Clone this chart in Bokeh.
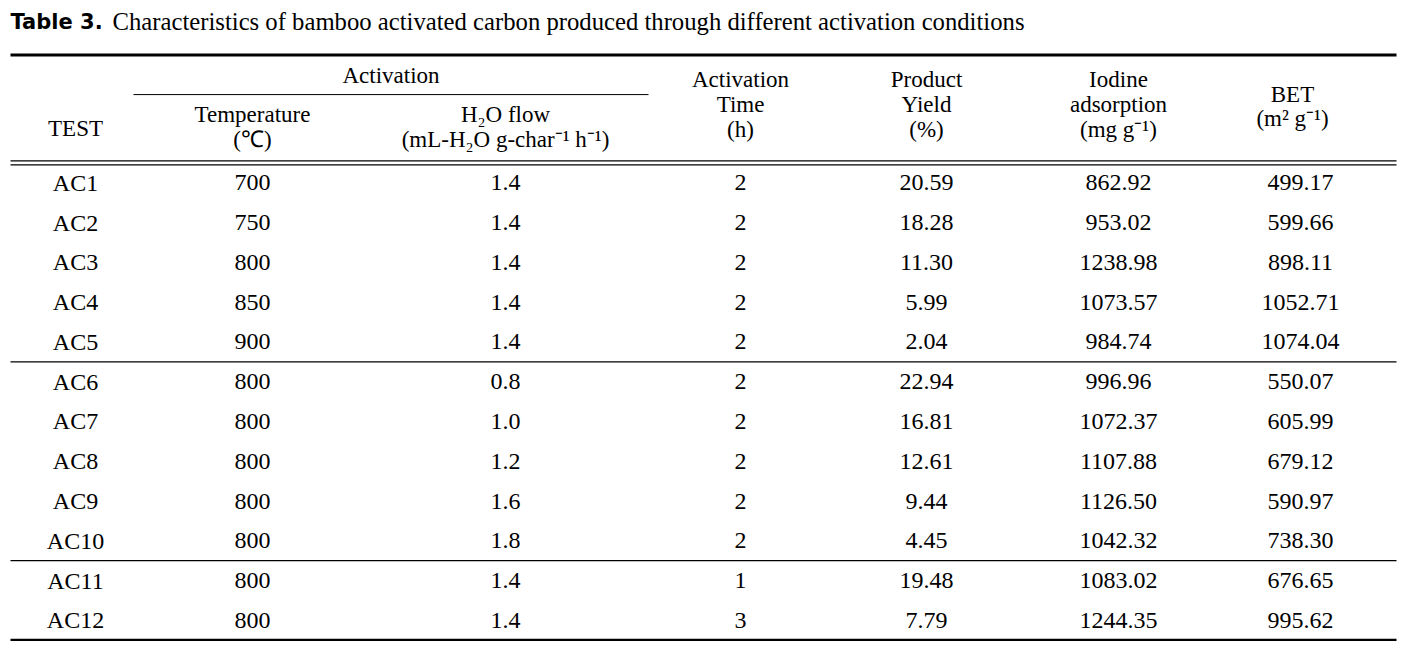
from bokeh.plotting import figure
from bokeh.models import ColumnDataSource, Range1d
from bokeh.core.properties import value
from bokeh.embed import file_html
from bokeh.resources import INLINE

# ---------------- data ----------------
tests = ["AC1", "AC2", "AC3", "AC4", "AC5", "AC6", "AC7", "AC8", "AC9", "AC10", "AC11", "AC12"]
temperature = [700, 750, 800, 850, 900, 800, 800, 800, 800, 800, 800, 800]
h2o_flow = [1.4, 1.4, 1.4, 1.4, 1.4, 0.8, 1.0, 1.2, 1.6, 1.8, 1.4, 1.4]
act_time = [2, 2, 2, 2, 2, 2, 2, 2, 2, 2, 1, 3]
product_yield = [20.59, 18.28, 11.30, 5.99, 2.04, 22.94, 16.81, 12.61, 9.44, 4.45, 19.48, 7.79]
iodine = [862.92, 953.02, 1238.98, 1073.57, 984.74, 996.96, 1072.37, 1107.88, 1126.50, 1042.32, 1083.02, 1244.35]
bet = [499.17, 599.66, 898.11, 1052.71, 1074.04, 550.07, 605.99, 679.12, 590.97, 738.30, 676.65, 995.62]
group_sizes = [5, 5, 2]

title_bold = "Table 3."
title_text = "Characteristics of bamboo activated carbon produced through different activation conditions"
group_header = "Activation"
col_headers = [
    ["TEST"],
    ["Temperature", "(\u2103)"],
    ["H\u2082O flow", "(mL-H\u2082O g-char\u207b\u00b9 h\u207b\u00b9)"],
    ["Activation", "Time", "(h)"],
    ["Product", "Yield", "(%)"],
    ["Iodine", "adsorption", "(mg g\u207b\u00b9)"],
    ["BET", "(m\u00b2 g\u207b\u00b9)"],
]

# ---------------- layout (reference pixel coordinates) ----------------
W, H = 1399, 641
X0, X1 = 10, 1396
col_x = [75, 252, 505, 740, 926, 1118, 1300]
hdr_x = [75, 252, 505, 740, 926, 1118, 1292]
row0, pitch = 187.0, 40.8
serif = value("Liberation Serif")
FS = "24px"
HFS = "23px"

p = figure(width=W, height=H, output_backend="svg", toolbar_location=None,
           x_range=Range1d(0, W), y_range=Range1d(657.5, 0),
           min_border=0, outline_line_color=None, background_fill_color="white",
           border_fill_color="white")
p.axis.visible = False
p.grid.visible = False

# title
p.text(x=[10], y=[22], text=[title_bold], text_font=value("DejaVu Sans"),
       text_font_style="bold", text_font_size="21px", text_align="left",
       text_baseline="middle", text_color="black")
p.text(x=[112], y=[22], text=[title_text], text_font=serif,
       text_font_size="24.7px", text_align="left", text_baseline="middle", text_color="black")

# header texts
hx, hy, ht = [], [], []
header_rows = {1: [116.5, 143], 2: [116.5, 143], 6: [96, 121.5]}
for i, lines in enumerate(col_headers):
    n = len(lines)
    if i in header_rows:
        ys = header_rows[i]
    elif n == 3:
        ys = [81, 107, 132.5]
    else:
        ys = [131]
    for k, t in enumerate(lines):
        hx.append(hdr_x[i]); hy.append(ys[k]); ht.append(t)
hx.append((133 + 648) / 2); hy.append(77); ht.append(group_header)
p.text(x="x", y="y", text="t", source=ColumnDataSource(dict(x=hx, y=hy, t=ht)),
       text_font=serif, text_font_size=HFS, text_align="center",
       text_baseline="middle", text_color="black")

# body texts
cols = [
    tests,
    [str(v) for v in temperature],
    [f"{v:.1f}" for v in h2o_flow],
    [str(v) for v in act_time],
    [f"{v:.2f}" for v in product_yield],
    [f"{v:.2f}" for v in iodine],
    [f"{v:.2f}" for v in bet],
]
bx, by, bt = [], [], []
for c, vals in enumerate(cols):
    for r, t in enumerate(vals):
        bx.append(col_x[c]); by.append(row0 + r * pitch); bt.append(t)
p.text(x="x", y="y", text="t", source=ColumnDataSource(dict(x=bx, y=by, t=bt)),
       text_font=serif, text_font_size=FS, text_align="center",
       text_baseline="middle", text_color="black")

# rules
def hline(y, w, x0=X0, x1=X1):
    p.segment(x0=[x0], y0=[y], x1=[x1], y1=[y], line_color="black", line_width=w)

hline(56, 3)
hline(96.5, 1, 133, 648)
top_body = row0 - pitch / 2
hline(top_body - 2, 1.2)
hline(top_body + 2, 1.2)
acc = 0
for g in group_sizes[:-1]:
    acc += g
    hline(row0 + (acc - 0.5) * pitch, 1.3)
hline(row0 + (len(tests) - 0.5) * pitch, 3)

open("out.html", "w").write(file_html(p, INLINE))
